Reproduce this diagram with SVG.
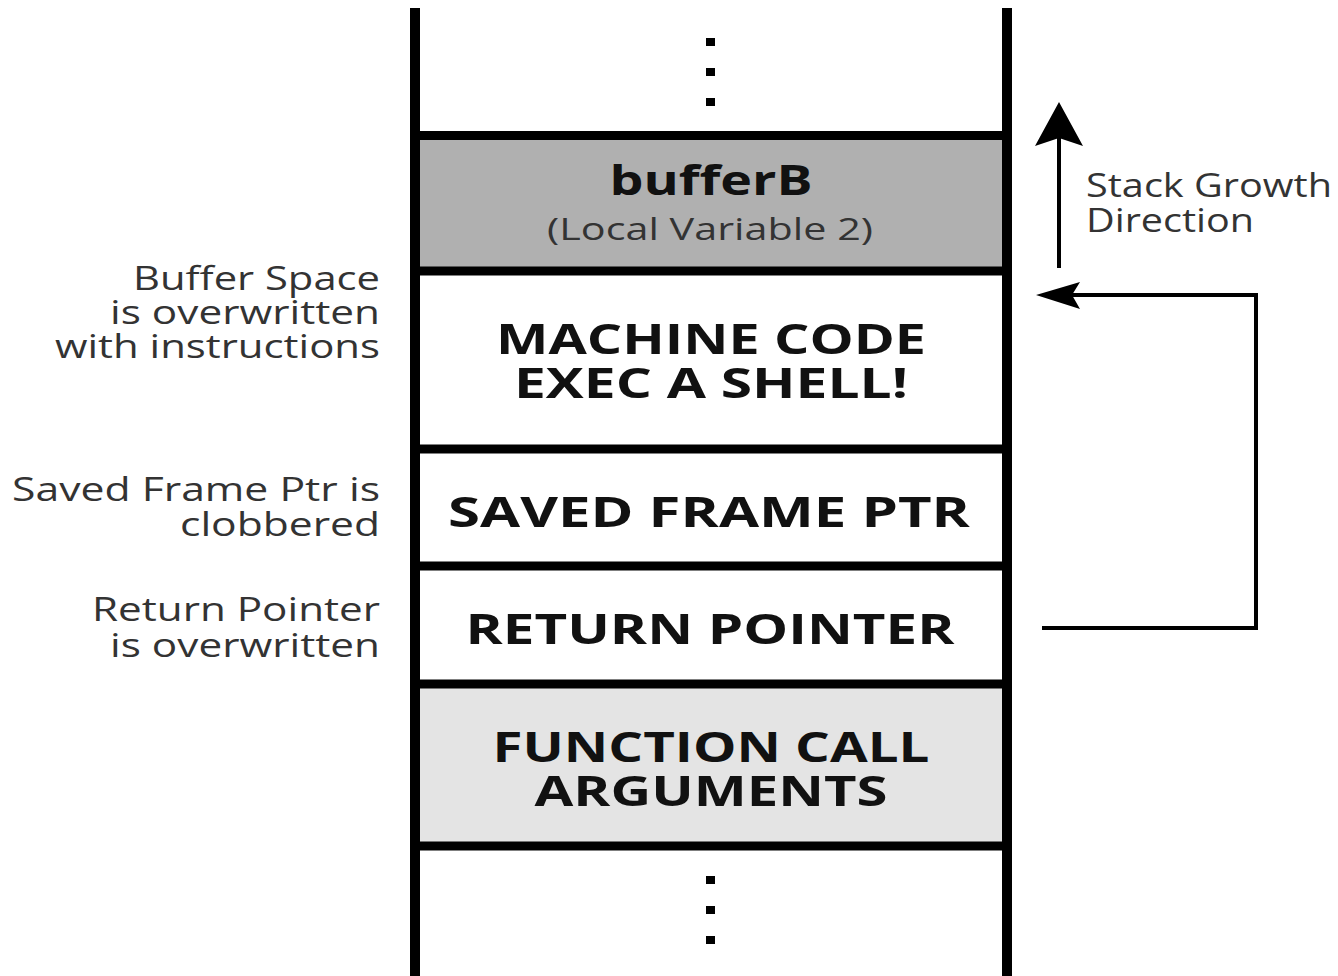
<svg xmlns="http://www.w3.org/2000/svg" width="1338" height="976" viewBox="0 0 1338 976">
<style>
.big{font-family:"Open Sans","DejaVu Sans",sans-serif;font-weight:700;font-size:42px;fill:#111;text-anchor:middle}
.sub{font-family:"Open Sans","DejaVu Sans",sans-serif;font-size:31px;fill:#333;text-anchor:middle}
.lbl{font-family:"Open Sans","DejaVu Sans",sans-serif;font-size:32px;fill:#333;text-anchor:end}
.lbr{font-family:"Open Sans","DejaVu Sans",sans-serif;font-size:32px;fill:#333;text-anchor:start}
.div{stroke:#000;stroke-width:9}
.wall{stroke:#000;stroke-width:10}
.conn{stroke:#000;stroke-width:4;fill:none}
</style>
<rect width="1338" height="976" fill="#fff"/>
<g id="stack">
<rect x="415" y="135" width="592" height="136" fill="#b0b0b0"/>
<rect x="415" y="684" width="592" height="162" fill="#e4e4e4"/>
<line class="wall" x1="415" y1="8" x2="415" y2="976"/>
<line class="wall" x1="1007" y1="8" x2="1007" y2="976"/>
</g>
<g id="top-dots" fill="#000">
<rect x="706" y="38" width="9" height="8"/>
<rect x="706" y="68" width="9" height="8"/>
<rect x="706" y="98" width="9" height="8"/>
</g>
<g id="bufferB">
<line class="div" x1="410" y1="135.5" x2="1012" y2="135.5"/>
<text class="big" x="711" y="195" textLength="203" lengthAdjust="spacingAndGlyphs">bufferB</text>
<text class="sub" x="710" y="240" textLength="326" lengthAdjust="spacingAndGlyphs">(Local Variable 2)</text>
</g>
<g id="machine-code">
<line class="div" x1="410" y1="271" x2="1012" y2="271"/>
<text class="big" x="711" y="354" textLength="430" lengthAdjust="spacingAndGlyphs">MACHINE CODE</text>
<text class="big" x="711" y="398" textLength="394" lengthAdjust="spacingAndGlyphs">EXEC A SHELL!</text>
</g>
<g id="saved-frame-ptr">
<line class="div" x1="410" y1="449" x2="1012" y2="449"/>
<text class="big" x="709" y="527" textLength="522" lengthAdjust="spacingAndGlyphs">SAVED FRAME PTR</text>
</g>
<g id="return-pointer">
<line class="div" x1="410" y1="566" x2="1012" y2="566"/>
<text class="big" x="710" y="644" textLength="489" lengthAdjust="spacingAndGlyphs">RETURN POINTER</text>
</g>
<g id="function-call-args">
<line class="div" x1="410" y1="684" x2="1012" y2="684"/>
<text class="big" x="711" y="762" textLength="437" lengthAdjust="spacingAndGlyphs">FUNCTION CALL</text>
<text class="big" x="711" y="806" textLength="353" lengthAdjust="spacingAndGlyphs">ARGUMENTS</text>
<line class="div" x1="410" y1="846" x2="1012" y2="846"/>
</g>
<g id="bottom-dots" fill="#000">
<rect x="706" y="876" width="9" height="8"/>
<rect x="706" y="906" width="9" height="8"/>
<rect x="706" y="936" width="9" height="8"/>
</g>
<g id="left-labels">
<text class="lbl" x="380" y="290" textLength="247" lengthAdjust="spacingAndGlyphs">Buffer Space</text>
<text class="lbl" x="380" y="324" textLength="270" lengthAdjust="spacingAndGlyphs">is overwritten</text>
<text class="lbl" x="380" y="358" textLength="325" lengthAdjust="spacingAndGlyphs">with instructions</text>
<text class="lbl" x="380" y="501" textLength="368" lengthAdjust="spacingAndGlyphs">Saved Frame Ptr is</text>
<text class="lbl" x="380" y="536" textLength="200" lengthAdjust="spacingAndGlyphs">clobbered</text>
<text class="lbl" x="380" y="621" textLength="288" lengthAdjust="spacingAndGlyphs">Return Pointer</text>
<text class="lbl" x="380" y="657" textLength="270" lengthAdjust="spacingAndGlyphs">is overwritten</text>
</g>
<g id="growth-label">
<text class="lbr" x="1086" y="197" textLength="246" lengthAdjust="spacingAndGlyphs">Stack Growth</text>
<text class="lbr" x="1086" y="232" textLength="168" lengthAdjust="spacingAndGlyphs">Direction</text>
</g>
<g id="connectors">
<line class="conn" stroke-width="5" x1="1059" y1="268" x2="1059" y2="135"/>
<polygon points="1059,102 1083,146 1059,138 1035,146" fill="#000"/>
<polyline class="conn" points="1042,628 1256,628 1256,295 1070,295"/>
<polygon points="1036,295 1080,282 1072,295 1080,309" fill="#000"/>
</g>
</svg>
